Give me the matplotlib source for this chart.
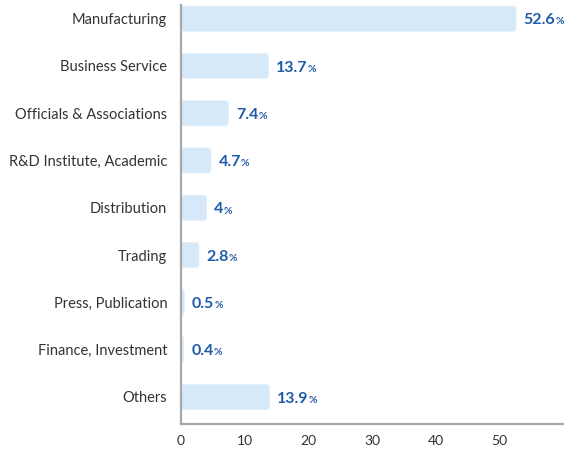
import matplotlib.pyplot as plt
from matplotlib.patches import FancyBboxPatch

categories = ['Manufacturing', 'Business Service', 'Officials & Associations',
              'R&D Institute, Academic', 'Distribution', 'Trading',
              'Press, Publication', 'Finance, Investment', 'Others']
values = [52.6, 13.7, 7.4, 4.7, 4, 2.8, 0.5, 0.4, 13.9]
value_labels = ['52.6', '13.7', '7.4', '4.7', '4', '2.8', '0.5', '0.4', '13.9']

plt.rcParams['font.family'] = ['Lato', 'DejaVu Sans']

fig = plt.figure(figsize=(5.66, 4.5), dpi=100)
ax = fig.add_axes([0.32, 0.058, 0.675, 0.931])

xmax = 60.0
ax.set_xlim(0, xmax)
ax.set_ylim(8.57, -0.29)

ypos = list(range(len(categories)))
bars = ax.barh(ypos, values, height=0.53, color='#d6e9f8')

# rounded corners (about 3 px)
px_x = xmax / 382.0
px_y = 8.86 / 419.0
for r in bars:
    r.set_visible(False)
    p = FancyBboxPatch((r.get_x(), r.get_y()), r.get_width(), r.get_height(),
                       boxstyle='round,pad=0,rounding_size=%f' % (3 * px_x),
                       mutation_aspect=px_y / px_x,
                       facecolor='#d6e9f8', edgecolor='#e2effa', linewidth=0.6)
    ax.add_patch(p)

for y, v, lab in zip(ypos, values, value_labels):
    t = ax.annotate(lab, xy=(v, y), xytext=(5.5, -1.2), textcoords='offset points',
                    va='center', ha='left', fontsize=11.5, fontweight='bold', color='#1f5ba8')
    ax.annotate('%', xy=(1, 0.06), xycoords=t, va='bottom', ha='left',
                fontsize=7.5, fontweight='bold', color='#1f5ba8')

ax.set_yticks(ypos)
ax.set_yticklabels(categories, fontsize=10.5, color='#333333')
ax.set_xticks([0, 10, 20, 30, 40, 50])
ax.tick_params(axis='x', labelsize=10, colors='#333333', length=0, pad=8)
ax.tick_params(axis='y', length=0, pad=10)

for s in ['top', 'right']:
    ax.spines[s].set_visible(False)
ax.spines['left'].set_color('#a8a8a8')
ax.spines['bottom'].set_color('#a8a8a8')
ax.spines['left'].set_linewidth(1.6)
ax.spines['bottom'].set_linewidth(1.6)

fig.savefig('out.png', dpi=100)
